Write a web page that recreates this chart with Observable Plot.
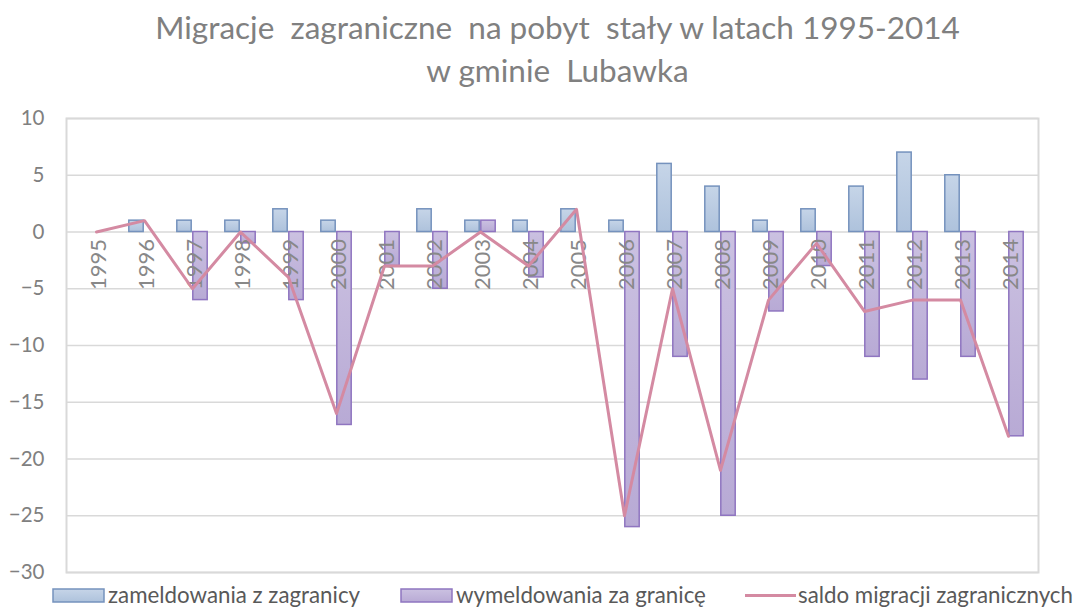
<!DOCTYPE html>
<html>
<head>
<meta charset="utf-8">
<script src="https://cdn.jsdelivr.net/npm/d3@7"></script>
<script src="https://cdn.jsdelivr.net/npm/@observablehq/plot@0.6"></script>
<style>
  body { margin: 0; background: #fff; font-family: Lato, "Open Sans", sans-serif; }
  #wrap { position: relative; width: 1077px; height: 608px; overflow: hidden; }
  #title { position: absolute; left: 0; top: 6px; width: 1115px; text-align: center;
           font-size: 31.5px; line-height: 43px; color: #808080; white-space: pre; }
  #chart { position: absolute; left: 0; top: 100px; }
  .leg { position: absolute; top: 581px; height: 28px; font-size: 22.3px; line-height: 28px; color: #595959; white-space: nowrap; }
  .sw { position: absolute; top: 588px; }
</style>
</head>
<body>
<div id="wrap">
  <div id="title"></div>
  <div id="chart"></div>
  <div id="legend"></div>
</div>
<script>
const years = ["1995","1996","1997","1998","1999","2000","2001","2002","2003","2004",
               "2005","2006","2007","2008","2009","2010","2011","2012","2013","2014"];
const zameldowania = [0, 1, 1, 1, 2, 1, 0, 2, 1, 1, 2, 1, 6, 4, 1, 2, 4, 7, 5, 0];
const wymeldowania = [0, 0, -6, -1, -6, -17, -3, -5, 1, -4, 0, -26, -11, -25, -7, -3, -11, -13, -11, -18];
const saldo = [0, 1, -5, 0, -4, -16, -3, -3, 0, -3, 2, -25, -5, -21, -6, -1, -7, -6, -6, -18];
const yTicks = [10, 5, 0, -5, -10, -15, -20, -25, -30];
const seriesNames = ["zameldowania z zagranicy", "wymeldowania za granicę", "saldo migracji zagranicznych"];
const titleLines = ["Migracje  zagraniczne  na pobyt  stały w latach 1995-2014", "w gminie  Lubawka"];

document.getElementById("title").textContent = titleLines.join("\n");

const inData = years.map((year, i) => ({year, value: zameldowania[i]})).filter(d => d.value !== 0);
const outData = years.map((year, i) => ({year, value: wymeldowania[i]})).filter(d => d.value !== 0);
const lineData = years.map((year, i) => ({year, value: saldo[i]}));

const W = 1077, mL = 66, mR = 39;
const band = (W - mL - mR) / years.length;
const barW = 15;

const chart = Plot.plot({
  width: W,
  height: 508,
  marginLeft: mL,
  marginRight: mR,
  marginTop: 18,
  marginBottom: 36,
  style: {fontFamily: "Lato, 'Open Sans', sans-serif", background: "transparent"},
  x: {domain: years, padding: 0, axis: null},
  y: {domain: [-30, 10], axis: null},
  marks: [
    Plot.ruleY(yTicks, {stroke: "#d9d9d9", strokeWidth: 1.5}),
    Plot.frame({stroke: "#d9d9d9", strokeWidth: 2}),
    Plot.barY(inData, {x: "year", y: "value", fill: "url(#gBlue)", stroke: "#7592bd", strokeWidth: 1.5,
      insetLeft: band / 2 - barW - 0.5, insetRight: band / 2 + 0.5}),
    Plot.barY(outData, {x: "year", y: "value", fill: "url(#gPurple)", stroke: "#8f75c0", strokeWidth: 1.5,
      insetLeft: band / 2 + 0.5, insetRight: band / 2 - barW - 0.5}),
    Plot.text(years, {x: d => d, y: () => 0, text: d => d, rotate: -90, textAnchor: "end", lineAnchor: "middle",
      dy: 7, dx: 2, fontSize: 22, fill: "#888888"}),
    Plot.line(lineData, {x: "year", y: "value", stroke: "#d48aa2", strokeWidth: 3}),
    Plot.axisY({ticks: yTicks, tickSize: 0, tickPadding: 22, fontSize: 20.5, color: "#808080", label: null})
  ]
});

const svg = d3.select(chart);
const defs = svg.insert("defs", ":first-child");
function grad(id, c1, c2) {
  const g = defs.append("linearGradient").attr("id", id).attr("x1", 0).attr("y1", 0).attr("x2", 0).attr("y2", 1);
  g.append("stop").attr("offset", "0%").attr("stop-color", c1);
  g.append("stop").attr("offset", "100%").attr("stop-color", c2);
}
grad("gBlue", "#c6d5e8", "#aec2dc");
grad("gPurple", "#cbc1e1", "#b8aad5");
document.getElementById("chart").appendChild(chart);

const legend = document.getElementById("legend");
legend.innerHTML = `
  <svg class="sw" style="left:52px" width="54" height="16"><defs>
    <linearGradient id="lb" x1="0" y1="0" x2="0" y2="1"><stop offset="0" stop-color="#c6d5e8"/><stop offset="1" stop-color="#aec2dc"/></linearGradient>
    <linearGradient id="lp" x1="0" y1="0" x2="0" y2="1"><stop offset="0" stop-color="#cbc1e1"/><stop offset="1" stop-color="#b8aad5"/></linearGradient></defs>
    <rect x="1" y="1" width="51" height="13" fill="url(#lb)" stroke="#7592bd" stroke-width="1.5"/></svg>
  <div class="leg" style="left:108px">${seriesNames[0]}</div>
  <svg class="sw" style="left:400px" width="54" height="16">
    <rect x="1" y="1" width="51" height="13" fill="url(#lp)" stroke="#8f75c0" stroke-width="1.5"/></svg>
  <div class="leg" style="left:456px">${seriesNames[1]}</div>
  <svg class="sw" style="left:745px" width="52" height="16">
    <line x1="0" y1="7.5" x2="51" y2="7.5" stroke="#d48aa2" stroke-width="3"/></svg>
  <div class="leg" style="left:798px">${seriesNames[2]}</div>
`;
</script>
</body>
</html>
